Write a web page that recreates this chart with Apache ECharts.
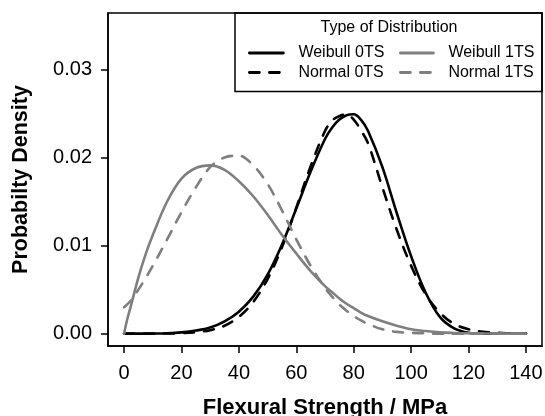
<!DOCTYPE html>
<html>
<head>
<meta charset="utf-8">
<title>Flexural strength distributions</title>
<script src="https://cdn.jsdelivr.net/npm/echarts@6/dist/echarts.min.js"></script>
<style>
  html, body { margin: 0; padding: 0; background: #fff; }
  #chart { width: 545px; height: 416px; }
</style>
</head>
<body>
<div id="chart"></div>
<script>
const strength = [0, 1, 2.5, 5, 7.5, 10, 15, 20, 25, 30, 35, 40, 45, 50, 55, 60, 65, 70,
  72.5, 75, 77.5, 80, 82.5, 85, 90, 95, 100, 105, 110, 115, 120, 125, 130, 135, 140];

// probability densities
const weibull0TS = [0, 0, 0, 0, 0, 0.00001, 0.00005, 0.00015, 0.00035, 0.0007, 0.0014, 0.0025,
  0.0042, 0.0067, 0.0101, 0.0142, 0.0184, 0.0221, 0.0234, 0.0243, 0.0248, 0.0249, 0.0243, 0.0230,
  0.0189, 0.0137, 0.0088, 0.0047, 0.0019, 0.0006, 0.0001, 0, 0, 0, 0];
const normal0TS = [0, 0, 0, 0, 0, 0, 0.00002, 0.00006, 0.00016, 0.0004, 0.0009, 0.0019,
  0.0036, 0.0062, 0.0098, 0.0143, 0.0190, 0.0230, 0.0242, 0.0247, 0.0249, 0.0243, 0.0231, 0.0216,
  0.0166, 0.0118, 0.0077, 0.0045, 0.0024, 0.0011, 0.0005, 0.0002, 0.0001, 0, 0];
const weibull1TS = [0, 0.0015, 0.0033, 0.0064, 0.0090, 0.0112, 0.0150, 0.0176, 0.0188, 0.0191,
  0.0186, 0.0173, 0.0156, 0.0135, 0.0112, 0.0091, 0.0071, 0.0054, 0.0047, 0.0040, 0.0034, 0.0029,
  0.0024, 0.0020, 0.0014, 0.0009, 0.0005, 0.0003, 0.00015, 0.00008, 0.00004, 0.00002, 0, 0, 0];
const normal1TS = [0.0030, 0.0033, 0.0038, 0.0050, 0.0063, 0.0077, 0.0107, 0.0138, 0.0166, 0.0189,
  0.0200, 0.0202, 0.0191, 0.0170, 0.0140, 0.0107, 0.0077, 0.0052, 0.0042, 0.0033, 0.0026, 0.0020,
  0.0015, 0.0011, 0.0005, 0.0002, 0.0001, 0.00003, 0, 0, 0, 0, 0, 0, 0];

const xTicks = [0, 20, 40, 60, 80, 100, 120, 140];
const yTicks = [0, 0.01, 0.02, 0.03];

const FONT = '"Liberation Sans", Arial, Helvetica, sans-serif';
const GREY = '#7f7f7f';

const pairs = (ys) => strength.map((x, i) => [x, ys[i]]);

const curve = (name, ys, color, dashed) => ({
  name: name,
  type: 'line',
  data: pairs(ys),
  symbol: 'none',
  smooth: 0.35,
  color: color,
  lineStyle: {
    color: color,
    width: 2.6,
    type: dashed ? [10, 10] : 'solid',
    cap: 'round',
    join: 'round'
  }
});

const legendText = {
  fontFamily: FONT,
  fontSize: 16,
  color: '#000',
  padding: [0, 0, 0, 10]
};

const legendBase = {
  orient: 'vertical',
  top: 45,
  padding: 0,
  itemHeight: 14,
  itemGap: 3.5,
  itemStyle: { opacity: 0 },
  lineStyle: { width: 2.8 },
  textStyle: legendText
};

const axisLine = { show: true, onZero: false, lineStyle: { color: '#000', width: 1.5 } };
const axisTick = (vals) => ({
  show: true,
  inside: false,
  length: 7,
  customValues: vals,
  lineStyle: { color: '#000', width: 1.5 }
});

const chart = echarts.init(document.getElementById('chart'), null, { renderer: 'canvas' });

chart.setOption({
  animation: false,
  backgroundColor: '#fff',
  grid: {
    left: 108,
    right: 3,
    top: 13,
    bottom: 70,
    outerBoundsMode: 'none',
    show: true,
    borderColor: '#000',
    borderWidth: 1.5
  },
  xAxis: {
    type: 'value',
    min: -5.6,
    max: 145.6,
    name: 'Flexural Strength / MPa',
    nameLocation: 'middle',
    nameGap: 51,
    nameTextStyle: { fontFamily: FONT, fontSize: 22, fontWeight: 'bold', color: '#000' },
    axisLine: axisLine,
    splitLine: { show: false },
    axisTick: axisTick(xTicks),
    axisLabel: { customValues: xTicks, fontFamily: FONT, fontSize: 20, color: '#000', margin: 17 }
  },
  yAxis: {
    type: 'value',
    min: -0.0014,
    max: 0.0364,
    name: 'Probabilty Density',
    nameLocation: 'middle',
    nameGap: 76,
    nameTextStyle: { fontFamily: FONT, fontSize: 21.5, fontWeight: 'bold', color: '#000' },
    axisLine: axisLine,
    splitLine: { show: false },
    axisTick: axisTick(yTicks),
    axisLabel: {
      customValues: yTicks,
      fontFamily: FONT,
      fontSize: 20,
      color: '#000',
      margin: 16,
      formatter: (v) => v.toFixed(2)
    }
  },
  legend: [
    Object.assign({}, legendBase, { data: ['Weibull 0TS', 'Normal 0TS'], left: 248, itemWidth: 34 }),
    Object.assign({}, legendBase, { data: ['Weibull 1TS', 'Normal 1TS'], left: 399, itemWidth: 33 })
  ],
  graphic: [
    {
      type: 'rect',
      shape: { x: 235, y: 13, width: 307, height: 78.5 },
      style: { fill: 'none', stroke: '#000', lineWidth: 1.5 }
    },
    {
      type: 'text',
      x: 389,
      y: 27.5,
      style: {
        text: 'Type of Distribution',
        fontFamily: FONT,
        fontSize: 16,
        fill: '#000',
        align: 'center',
        verticalAlign: 'middle'
      }
    }
  ],
  series: [
    curve('Weibull 0TS', weibull0TS, '#000', false),
    curve('Normal 0TS', normal0TS, '#000', true),
    curve('Weibull 1TS', weibull1TS, GREY, false),
    curve('Normal 1TS', normal1TS, GREY, true)
  ]
});
</script>
</body>
</html>
